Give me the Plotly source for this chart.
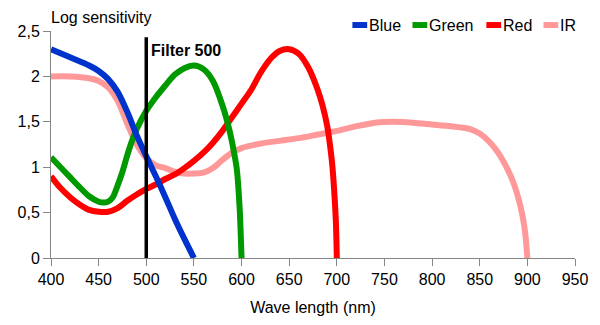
import plotly.graph_objects as go

# ---------------- data ----------------
series_names = ["Blue", "Green", "Red", "IR"]

blue_x = [400, 420, 440, 450, 460, 470, 480, 490, 500, 510, 520, 530, 540, 550]
blue_y = [2.30, 2.21, 2.12, 2.06, 1.97, 1.83, 1.61, 1.35, 1.12, 0.90, 0.67, 0.43, 0.21, 0.0]

green_x = [400, 410, 420, 430, 440, 450, 455, 460, 465, 470, 475, 480, 485, 490, 500,
           510, 520, 530, 540, 550, 560, 570, 580, 587, 592, 595, 598, 600]
green_y = [1.11, 1.00, 0.89, 0.78, 0.68, 0.62, 0.61, 0.62, 0.67, 0.80, 0.95, 1.13, 1.29, 1.42, 1.62,
           1.77, 1.90, 2.02, 2.09, 2.12, 2.08, 1.95, 1.68, 1.42, 1.17, 0.98, 0.55, 0.0]

red_x = [400, 410, 420, 430, 440, 450, 460, 470, 480, 490, 500, 510, 520, 530, 540, 550,
         560, 570, 580, 590, 600, 610, 620, 630, 640, 650, 660, 670, 680, 685, 690, 692,
         695, 697, 699, 700]
red_y = [0.90, 0.77, 0.67, 0.59, 0.53, 0.51, 0.51, 0.55, 0.63, 0.70, 0.76, 0.81, 0.87, 0.92, 0.99, 1.07,
         1.16, 1.27, 1.40, 1.55, 1.70, 1.85, 2.04, 2.19, 2.28, 2.30, 2.25, 2.10, 1.85, 1.68, 1.45, 1.31,
         1.05, 0.78, 0.40, 0.0]

ir_x = [400, 420, 440, 450, 460, 470, 480, 490, 500, 510, 520, 530, 540, 550, 560, 570, 580,
        590, 600, 620, 640, 660, 680, 700, 720, 740, 760, 780, 800, 820, 840, 850, 860, 870,
        880, 885, 890, 895, 898, 900]
ir_y = [2.00, 2.00, 1.98, 1.95, 1.88, 1.73, 1.48, 1.25, 1.10, 1.02, 0.99, 0.95, 0.93, 0.93, 0.94, 0.99, 1.08,
        1.16, 1.21, 1.26, 1.29, 1.32, 1.36, 1.40, 1.45, 1.49, 1.50, 1.49, 1.47, 1.45, 1.42, 1.37, 1.28, 1.15,
        0.96, 0.84, 0.68, 0.46, 0.25, 0.0]

filter_x = [500, 500]
filter_y = [0, 2.43]
filter_label = "Filter 500"

x_ticks = [400, 450, 500, 550, 600, 650, 700, 750, 800, 850, 900, 950]
y_ticks = [0, 0.5, 1, 1.5, 2, 2.5]
y_tick_text = ["0", "0,5", "1", "1,5", "2", "2,5"]

x_title = "Wave length (nm)"
y_title = "Log sensitivity"

# ---------------- style ----------------
colors = ["#0033CC", "#009900", "#FF0000", "#FF9999"]
FONT = "Liberation Sans, Arial, sans-serif"
AXIS_COLOR = "#868686"
FS = 16
W, H = 600, 325
L, R, T, B = 51, 17, 31, 66
PW, PH = W - L - R, H - T - B


def px(xp):
    return (xp - L) / PW


def py(yp):
    return (H - B - yp) / PH


fig = go.Figure()

data = [(blue_x, blue_y), (green_x, green_y), (red_x, red_y), (ir_x, ir_y)]
order = [3, 2, 1, 0]  # draw IR first, blue on top
for i in order:
    xs, ys = data[i]
    fig.add_trace(go.Scatter(
        x=xs, y=ys, mode="lines", name=series_names[i],
        line=dict(color=colors[i], width=6, shape="spline", smoothing=0.8),
        showlegend=False, hoverinfo="skip"))

fig.add_trace(go.Scatter(
    x=filter_x, y=filter_y, mode="lines", name=filter_label,
    line=dict(color="black", width=3.5), showlegend=False, hoverinfo="skip"))

annotations = [
    dict(text=f"<b>{filter_label}</b>", x=filter_x[0], y=2.29, xref="x", yref="y",
         xanchor="left", yanchor="middle", xshift=3, showarrow=False,
         font=dict(family=FONT, size=FS, color="black")),
    dict(text=y_title, x=px(49), y=py(17), xref="paper", yref="paper",
         xanchor="left", yanchor="middle", showarrow=False,
         font=dict(family=FONT, size=FS, color="black")),
]

# custom legend (swatch + text)
legend_swatch_x = [357, 418, 493, 551]
shapes = []
for i, name in enumerate(series_names):
    x0 = legend_swatch_x[i]
    shapes.append(dict(type="rect", xref="paper", yref="paper",
                       x0=px(x0), x1=px(x0 + 15), y0=py(28), y1=py(22),
                       fillcolor=colors[i], line=dict(width=0)))
    annotations.append(dict(text=name, x=px(x0 + 15), y=py(25), xref="paper", yref="paper",
                            xanchor="left", yanchor="middle", showarrow=False,
                            font=dict(family=FONT, size=FS, color="black")))

fig.update_layout(
    width=W, height=H,
    margin=dict(l=L, r=R, t=T, b=B),
    paper_bgcolor="white", plot_bgcolor="white",
    font=dict(family=FONT, size=FS, color="black"),
    showlegend=False,
    annotations=annotations,
    shapes=shapes,
    xaxis=dict(range=[400, 950], tickvals=x_ticks, showgrid=False, zeroline=False,
               showline=True, linecolor=AXIS_COLOR, linewidth=1,
               ticks="outside", ticklen=7, tickcolor=AXIS_COLOR, tickwidth=1,
               title=dict(text=x_title, standoff=14,
                          font=dict(family=FONT, size=FS, color="black")),
               tickfont=dict(family=FONT, size=FS, color="black")),
    yaxis=dict(range=[0, 2.5], tickvals=y_ticks, ticktext=y_tick_text, showgrid=False,
               zeroline=False, showline=True, linecolor=AXIS_COLOR, linewidth=1,
               ticks="outside", ticklen=7, tickcolor=AXIS_COLOR, tickwidth=1,
               tickfont=dict(family=FONT, size=FS, color="black")),
)

fig.write_html("out.html")
